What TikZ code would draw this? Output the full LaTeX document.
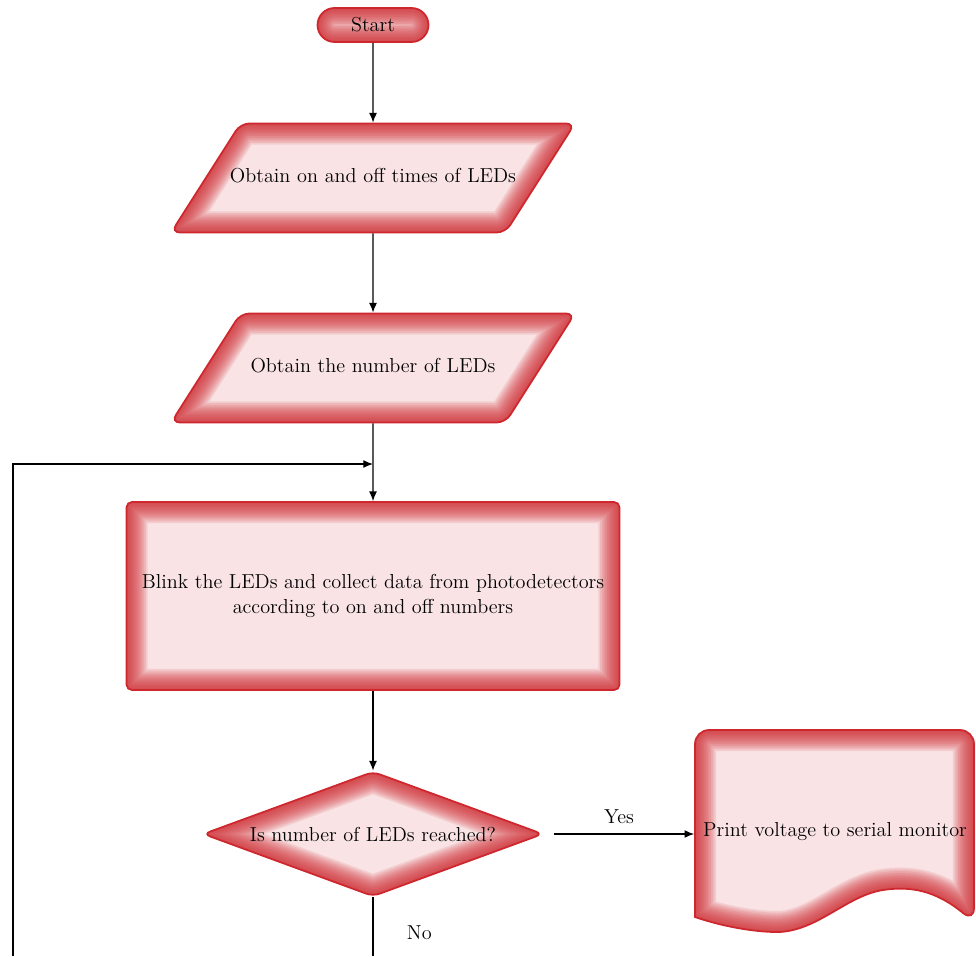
\documentclass[tikz,border=0pt]{standalone}
\usepackage{tikz}
\usetikzlibrary {positioning}
\usetikzlibrary{arrows}
\usetikzlibrary{arrows.meta}
\usetikzlibrary{calc}
\usetikzlibrary{shapes.geometric}

\definecolor{rimred}{RGB}{206,40,46}
\definecolor{pinkfill}{RGB}{249,227,229}

% soft red rim on the inside of a shape
\newcommand{\glowpath}[2]{%
  \foreach \w in {1,...,12}{%
    \draw[rimred, line width=2*\w pt, opacity=0.12, #1] #2;}}

\tikzset{
  flowbase/.style={fill=pinkfill, draw=rimred, line width=1pt, font=\fontsize{11.5}{14}\selectfont},
  terminal/.style={flowbase, rectangle, rounded corners=0.34cm, minimum width=2.22cm, minimum height=0.68cm,
    path picture={\glowpath{rounded corners=0.34cm}{(path picture bounding box.south west) rectangle (path picture bounding box.north east)}}},
  inputbox/.style={flowbase, trapezium, trapezium left angle=57.5, trapezium right angle=122.5,
    trapezium stretches body=true, text width=5.8cm, align=center, text height=0.28cm, text depth=0.1cm,
    inner xsep=-0.25cm, inner ysep=0.9cm, rounded corners=5pt,
    path picture={\glowpath{rounded corners=5pt}{(path picture bounding box.south west) -- ($(path picture bounding box.south east)+(-1.38cm,0)$) -- (path picture bounding box.north east) -- ($(path picture bounding box.north west)+(1.38cm,0)$) -- cycle}}},
  process/.style={flowbase, rectangle, rounded corners=3pt, minimum width=9.86cm, minimum height=3.76cm, align=center,
    path picture={\glowpath{rounded corners=3pt}{(path picture bounding box.south west) rectangle (path picture bounding box.north east)}}},
  decision/.style={flowbase, diamond, aspect=2.7, inner sep=0pt, minimum width=6.8cm, minimum height=2.5cm, rounded corners=4pt,
    path picture={\glowpath{rounded corners=4pt}{(path picture bounding box.north) -- (path picture bounding box.east) -- (path picture bounding box.south) -- (path picture bounding box.west) -- cycle}}},
  flowline/.style={line width=0.7pt, -{Latex[length=5.5pt, width=4.5pt]}},
  flowlabel/.style={font=\fontsize{11.5}{14}\selectfont}
}

\begin{document}
\begin{tikzpicture}[x=0.02cm, y=-0.02cm]
 	 \useasboundingbox (0,0) rectangle (976,956);

 	 % Output sheet with a wavy lower edge
 	 \def\docpath{[rounded corners=8pt] (695,917) -- (695,730) -- (974,730) -- (974,922) [sharp corners]
 	   .. controls (935,890) and (910,886) .. (883,890) .. controls (845,896) and (815,934) .. (773,932)
 	   .. controls (745,931) and (715,924) .. (695,917) -- cycle}
 	 \fill[pinkfill] \docpath;
 	 \begin{scope}
 	 	\clip \docpath;
 	 	\glowpath{}{\docpath}
 	 \end{scope}
 	 \draw[rimred, line width=1pt] \docpath;

 	 \node[terminal] (start) at (373,25) {Start};
 	 \node[inputbox] (times) at (373,178) {Obtain on and off times of LEDs};
 	 \node[inputbox] (count) at (373,368) {Obtain the number of LEDs};
 	 \node[process] (blink) at (373,596) {Blink the LEDs and collect data from photodetectors\\according to on and off numbers};
 	 \node[decision] (check) at (373,834) {Is number of LEDs reached?};
 	 \node[flowlabel, minimum width=5.62cm, minimum height=4cm] (print) at (835,832) {Print voltage to serial monitor};

 	 % Loop back ends, cut off by the lower edge
 	 \coordinate (loopend) at (13,956);
 	 \coordinate (join) at (373,464);
 	 \coordinate (noend) at (373,956);

 	 \draw[flowline] (start) -- (times);
 	 \draw[flowline] (times) -- (count);
 	 \draw[flowline] (count) -- (blink);
 	 \draw[flowline] (loopend) |- (join);
 	 \draw[flowline] (blink) -- (check);
 	 \draw[flowline, shorten <=0.2cm] (check.east) -- node[midway, above=2pt, flowlabel] {Yes} (check.east -| print.west);
 	 \draw[line width=0.7pt] (check.south) -- node[pos=0.6, right=0.55cm, flowlabel] {No} (noend);

\end{tikzpicture}
\end{document}
